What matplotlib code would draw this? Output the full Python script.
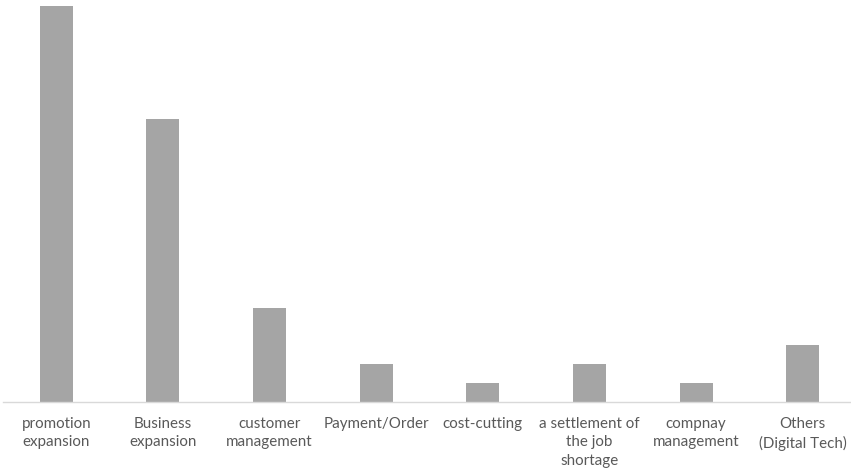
import matplotlib.pyplot as plt
import numpy as np

# Categories and counts
categories = ["promotion\nexpansion", "Business\nexpansion", "customer\nmanagement",
              "Payment/Order", "cost-cutting", "a settlement of\nthe job\nshortage",
              "compnay\nmanagement", "Others\n(Digital Tech)"]
counts = [21, 15, 5, 2, 1, 2, 1, 3]

plt.rcParams['font.family'] = ['Lato', 'DejaVu Sans']

fig = plt.figure(figsize=(8.51, 4.75), dpi=100)
# axes placed in pixel terms: baseline at y=402 from top, top of tallest bar at y=6
ax = fig.add_axes([3 / 851, 73 / 475, 853 / 851, 396 / 475])

x = np.arange(len(categories))
ax.bar(x, counts, width=0.31, color='#A5A5A5', zorder=2)

ax.set_xlim(-0.5, len(categories) - 0.5)
ax.set_ylim(0, 21)
ax.set_xticks(x)
ax.set_xticklabels(categories, fontsize=10.9, color='#595959', linespacing=1.38, va='top')
ax.tick_params(axis='x', length=0, pad=11)
ax.set_yticks([])

for side in ['top', 'right', 'left']:
    ax.spines[side].set_visible(False)
ax.spines['bottom'].set_color('#D9D9D9')
ax.spines['bottom'].set_linewidth(1.0)

fig.savefig('out.png', dpi=100)
